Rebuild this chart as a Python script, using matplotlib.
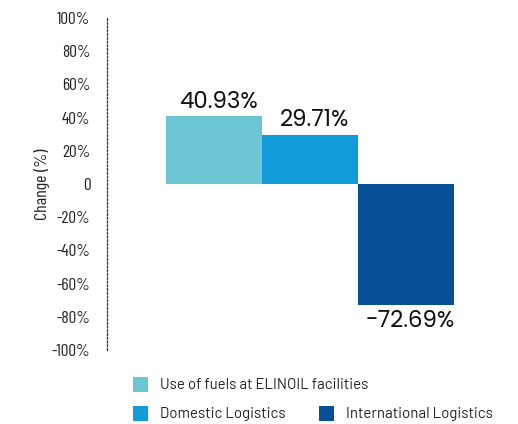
import matplotlib
matplotlib.use("Agg")
import matplotlib.pyplot as plt
from matplotlib.patches import Rectangle

categories = ["Use of fuels at ELINOIL facilities", "Domestic Logistics", "International Logistics"]
changes = [40.93, 29.71, -72.69]
colors = ["#6bc5d3", "#139bd7", "#075097"]
yticks = [100, 80, 60, 40, 20, 0, -20, -40, -60, -80, -100]
ytick_labels = ["0" if v == 0 else f"{v}%" for v in yticks]

narrow = ["Barlow Condensed", "Roboto Condensed", "DejaVu Sans"]
label_font = ["Poppins", "Open Sans", "DejaVu Sans"]
legend_font = ["Barlow", "Roboto", "DejaVu Sans"]

fig = plt.figure(figsize=(5.18, 4.24), dpi=100)
ax = fig.add_axes([0.2066, 0.1745, 0.72, 0.783])

x = list(range(len(changes)))
ax.bar(x, changes, width=1.0, color=colors, linewidth=0)

# value labels: above positive bars, below negative ones
for xi, v in zip(x, changes):
    if v >= 0:
        off, va = 6, "baseline"
    else:
        off, va = -4, "top"
    ax.annotate(f"{v:.2f}%", (xi, v), xytext=(3, off), textcoords="offset points",
                ha="center", va=va, fontsize=16.5, family=label_font, color="#111")

ax.set_xlim(-1.118, 2.77)
ax.set_ylim(-100, 100)
ax.set_yticks(yticks)
ax.set_yticklabels(ytick_labels, family=narrow, fontsize=12.5, color="#222")
ax.tick_params(axis="y", length=0, pad=12)
ax.set_xticks([])
for s in ("top", "right", "bottom"):
    ax.spines[s].set_visible(False)
ax.spines["left"].set_linestyle((0, (1.5, 1.5)))
ax.spines["left"].set_linewidth(0.9)
ax.spines["left"].set_color("#333")
ax.set_ylabel("Change (%)", family=narrow, fontsize=13, color="#222")
ax.yaxis.set_label_coords(-0.153, 0.5)

# legend: one entry on the first row, two on the second
W, H = 518, 424
entries = [(133, 377, 0), (133, 406, 1), (319, 406, 2)]
for px, py, i in entries:
    fig.add_artist(Rectangle((px / W, 1 - (py + 15) / H), 15 / W, 15 / H,
                             transform=fig.transFigure, color=colors[i], lw=0))
    fig.text((px + 27) / W, 1 - (py + 8) / H, categories[i], ha="left", va="center",
             fontsize=10.8, family=legend_font, color="#222")

fig.savefig("out.png", dpi=100)
